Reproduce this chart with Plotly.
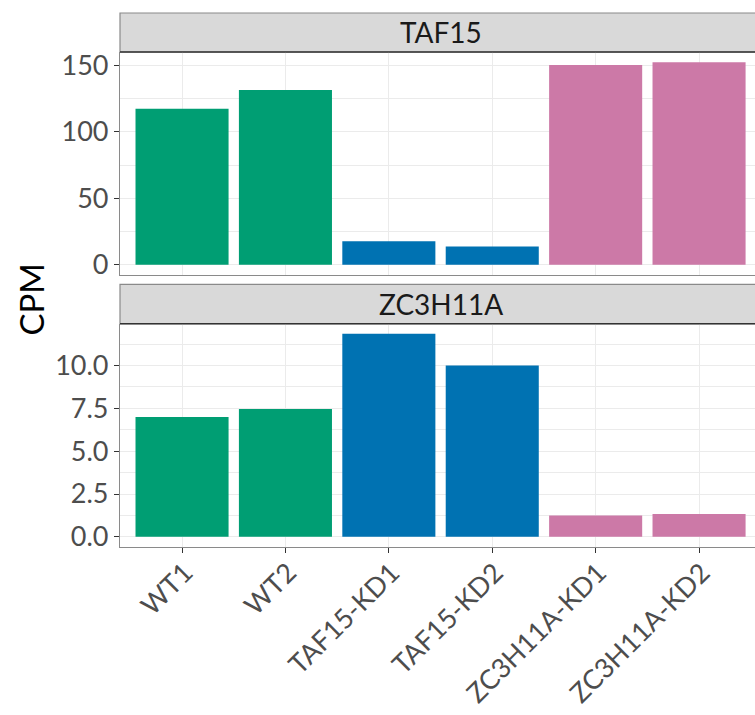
import plotly.graph_objects as go

# Samples and expression values (CPM) per gene
samples = ["WT1", "WT2", "TAF15-KD1", "TAF15-KD2", "ZC3H11A-KD1", "ZC3H11A-KD2"]
groups = ["WT", "WT", "TAF15-KD", "TAF15-KD", "ZC3H11A-KD", "ZC3H11A-KD"]
taf15_cpm = [117.5, 131.5, 17.8, 13.8, 150.3, 152.5]
zc3h11a_cpm = [7.0, 7.47, 11.85, 10.0, 1.24, 1.34]
genes = ["TAF15", "ZC3H11A"]

group_colors = {"WT": "#009E73", "TAF15-KD": "#0072B2", "ZC3H11A-KD": "#CC79A7"}
bar_colors = [group_colors[g] for g in groups]

W, H = 755, 715
L, R, T, B = 119.5, 0, 13, 168
plot_h = H - T - B


def py(p):
    """pixel row -> paper y"""
    return (H - B - p) / plot_h


top_strip = (13, 52)
top_panel = (52, 275)
bot_strip = (284.3, 323.7)
bot_panel = (323.7, 546.7)

FONT = "Lato"
GRID = "#EBEBEB"
BORDER = "#8a8a8a"

fig = go.Figure()
fig.add_trace(go.Bar(x=samples, y=taf15_cpm, marker=dict(color=bar_colors, line=dict(width=0)),
                     width=0.9, xaxis="x2", yaxis="y2", showlegend=False))
fig.add_trace(go.Bar(x=samples, y=zc3h11a_cpm, marker=dict(color=bar_colors, line=dict(width=0)),
                     width=0.9, xaxis="x", yaxis="y", showlegend=False))


def yrange(vals):
    m = max(vals)
    return [-0.05 * m, 1.05 * m]


xr = [-0.6, 5.0 + (W - 699.0) / 103.5]
xcommon = dict(range=xr, showgrid=True, gridcolor=GRID, gridwidth=1.3, zeroline=False,
               showline=True, linecolor=BORDER, linewidth=1.2, categoryorder="array",
               categoryarray=samples, automargin=False)
ycommon = dict(showgrid=True, gridcolor=GRID, gridwidth=1.3, zeroline=False,
               showline=True, linecolor=BORDER, linewidth=1.2, automargin=False,
               ticks="outside", ticklen=5, tickwidth=1.2, tickcolor="#333333",
               tickfont=dict(family=FONT, size=27, color="#4D4D4D"), ticklabelstandoff=0)

fig.update_layout(
    width=W, height=H,
    margin=dict(l=L, r=R, t=T, b=B, autoexpand=False),
    paper_bgcolor="white", plot_bgcolor="white",
    bargap=0.1,
    xaxis=dict(**xcommon, anchor="y", domain=[0, 1], ticks="outside", ticklen=5, tickwidth=1.2,
               tickcolor="#333333", tickangle=-45, ticklabelstandoff=-7, ticklabelshift=3,
               tickfont=dict(family=FONT, size=27, color="#4D4D4D")),
    xaxis2=dict(**xcommon, anchor="y2", domain=[0, 1], matches="x", showticklabels=False, ticks=""),
    yaxis=dict(**ycommon, anchor="x", domain=[0, py(bot_panel[0])], range=yrange(zc3h11a_cpm),
               tickvals=[0, 2.5, 5, 7.5, 10], tickformat=".1f",
               minor=dict(showgrid=True, gridcolor=GRID, gridwidth=0.8,
                          tickvals=[1.25, 3.75, 6.25, 8.75, 11.25], ticks="")),
    yaxis2=dict(**ycommon, anchor="x2", domain=[py(top_panel[1]), py(top_panel[0])],
                range=yrange(taf15_cpm), tickvals=[0, 50, 100, 150],
                minor=dict(showgrid=True, gridcolor=GRID, gridwidth=0.8,
                           tickvals=[25, 75, 125], ticks="")),
)

shapes = []
annotations = []
for gene, strip in zip(genes, [top_strip, bot_strip]):
    y0, y1 = py(strip[1]), py(strip[0])
    shapes.append(dict(type="rect", xref="paper", yref="paper", x0=0, x1=1.05, y0=y0, y1=y1,
                       fillcolor="#D9D9D9", line=dict(color=BORDER, width=1.2), layer="below"))
    annotations.append(dict(text=gene, xref="x", yref="paper", x=2.5, y=(y0 + y1) / 2,
                            xanchor="center", yanchor="middle", showarrow=False,
                            font=dict(family=FONT, size=28, color="#1A1A1A")))

# dark rule where each strip meets its panel
for p in [top_panel, bot_panel]:
    shapes.append(dict(type="line", xref="paper", yref="paper", x0=0, x1=1.05,
                       y0=py(p[0]), y1=py(p[0]), line=dict(color="#333333", width=1.4)))

annotations.append(dict(text="CPM", xref="paper", yref="paper", x=(30 - L) / (W - L - R),
                        y=py(299), xanchor="center", yanchor="middle", textangle=-90,
                        showarrow=False, font=dict(family=FONT, size=33, color="black")))

fig.update_layout(shapes=shapes, annotations=annotations)
fig.write_html("out.html", config={"displayModeBar": False})
